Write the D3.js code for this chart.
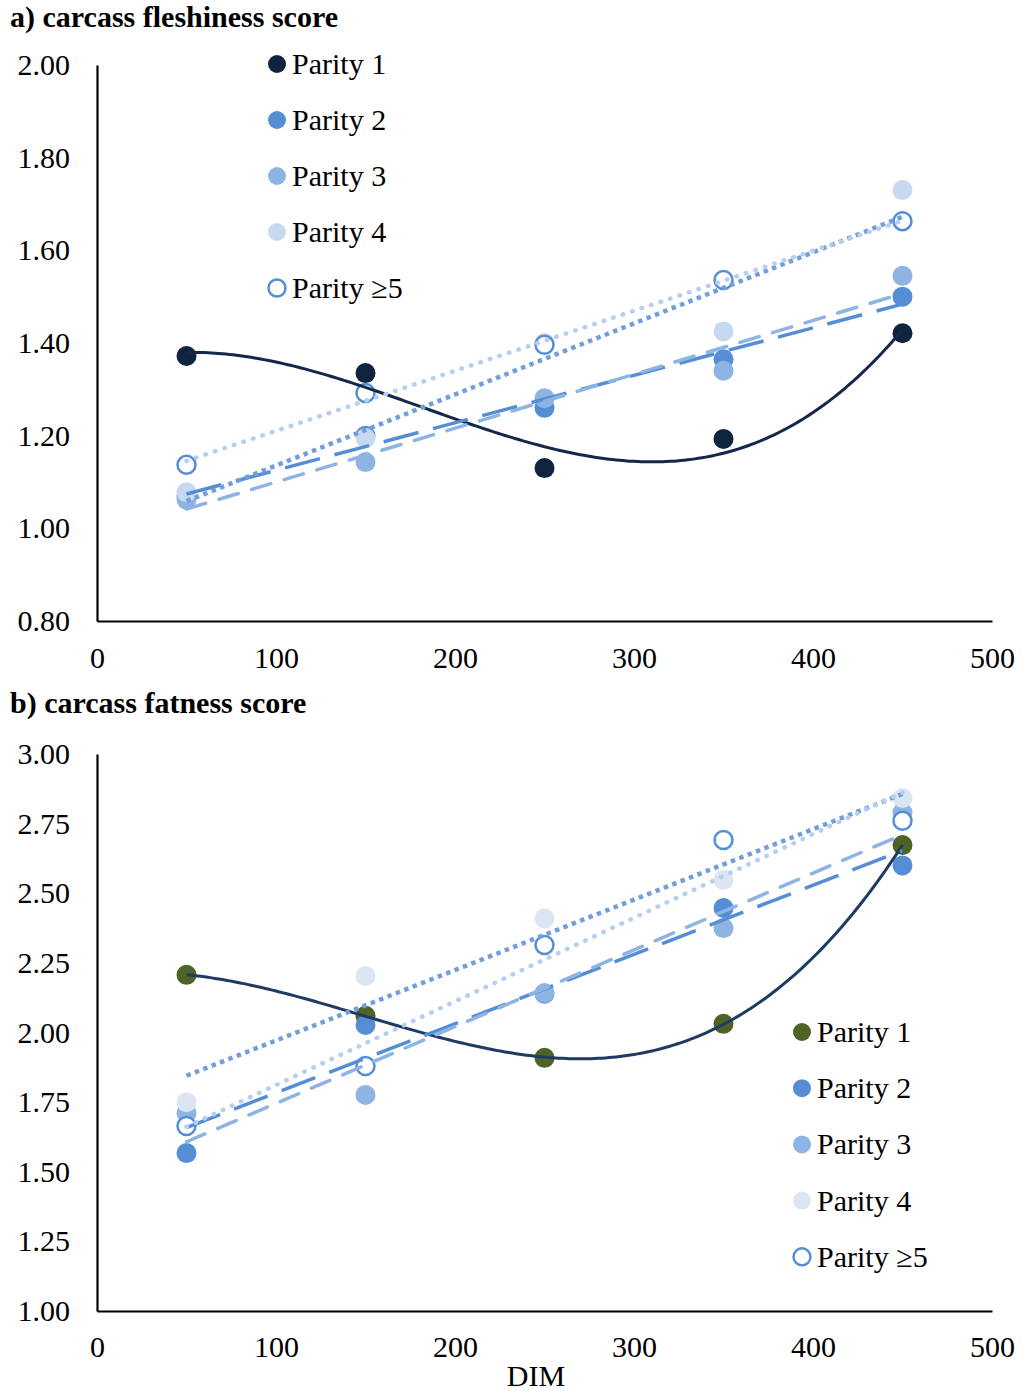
<!DOCTYPE html>
<html>
<head>
<meta charset="utf-8">
<script src="https://cdn.jsdelivr.net/npm/d3@7"></script>
<style>
  body { margin: 0; background: #fff; }
  svg text { font-family: "Liberation Serif", "Times New Roman", serif; }
</style>
</head>
<body>
<div id="chart"></div>
<script>
// Carcass scores by DIM and parity, with Excel-style trendlines
const dim = [50, 150, 250, 350, 450];
const parityNames = ["Parity 1", "Parity 2", "Parity 3", "Parity 4", "Parity \u22655"];
const xTicks = [0, 100, 200, 300, 400, 500];

// a) carcass fleshiness score
const fleshP1 = [1.372, 1.335, 1.130, 1.193, 1.421];
const fleshP2 = [1.070, 1.200, 1.260, 1.365, 1.500];
const fleshP3 = [1.062, 1.143, 1.281, 1.340, 1.545];
const fleshP4 = [1.078, 1.195, 1.400, 1.425, 1.730];
const fleshP5 = [1.137, 1.292, 1.396, 1.536, 1.663];
const fleshTicks = [0.80, 1.00, 1.20, 1.40, 1.60, 1.80, 2.00];

// b) carcass fatness score
const fatP1 = [2.207, 2.060, 1.909, 2.031, 2.673];
const fatP2 = [1.567, 2.027, 2.139, 2.447, 2.600];
const fatP3 = [1.711, 1.776, 2.142, 2.375, 2.790];
const fatP4 = [1.750, 2.203, 2.410, 2.548, 2.842];
const fatP5 = [1.664, 1.880, 2.314, 2.691, 2.760];
const fatTicks = [1.00, 1.25, 1.50, 1.75, 2.00, 2.25, 2.50, 2.75, 3.00];

const width = 1021, height = 1391;

const svg = d3.select("#chart")
    .append("svg")
    .attr("width", width)
    .attr("height", height);

const x = d3.scaleLinear().domain([0, 500]).range([97, 992]);

// least squares polynomial fit (what the Excel trendlines are)
function polyfit(xs, ys, deg) {
    const n = deg + 1;
    const t = xs.map(v => (v - 250) / 100);
    const A = [], b = [];
    for (let i = 0; i < n; i++) {
        A.push([]);
        for (let j = 0; j < n; j++) A[i].push(d3.sum(t, v => Math.pow(v, i + j)));
        b.push(d3.sum(t, (v, k) => ys[k] * Math.pow(v, i)));
    }
    for (let c = 0; c < n; c++) {
        for (let r = c + 1; r < n; r++) {
            const f = A[r][c] / A[c][c];
            for (let k = c; k < n; k++) A[r][k] -= f * A[c][k];
            b[r] -= f * b[c];
        }
    }
    const coef = new Array(n).fill(0);
    for (let r = n - 1; r >= 0; r--) {
        let s = b[r];
        for (let k = r + 1; k < n; k++) s -= A[r][k] * coef[k];
        coef[r] = s / A[r][r];
    }
    return xv => {
        const tv = (xv - 250) / 100;
        return coef.reduce((acc, c, i) => acc + c * Math.pow(tv, i), 0);
    };
}

function drawPanel(cfg) {
    const g = svg.append("g");
    const y = d3.scaleLinear().domain(cfg.yDomain).range(cfg.yRange);

    g.append("text")
        .attr("x", 10)
        .attr("y", cfg.titleY)
        .attr("font-size", 30)
        .attr("font-weight", "bold")
        .text(cfg.title);

    // axes
    const yAxis = g.append("g")
        .attr("transform", `translate(${x(0)},0)`)
        .call(d3.axisLeft(y).tickValues(cfg.ticks).tickSize(0).tickSizeOuter(0)
            .tickPadding(27).tickFormat(d3.format(".2f")));
    const xAxis = g.append("g")
        .attr("transform", `translate(0,${y(cfg.yDomain[0])})`)
        .call(d3.axisBottom(x).tickValues(xTicks).tickSize(0).tickSizeOuter(0));
    xAxis.selectAll("text").attr("y", cfg.xLabelOffset).attr("dy", null);
    [yAxis, xAxis].forEach(a => {
        a.attr("font-family", null).attr("font-size", 30);
        a.select(".domain").attr("stroke", "#000").attr("stroke-width", 2.2);
        a.selectAll("text").attr("fill", "#000");
    });

    // markers
    cfg.series.forEach((s, i) => {
        g.selectAll(null)
            .data(s.values.map((v, k) => ({ d: dim[k], v })))
            .enter()
            .append("circle")
            .attr("cx", p => x(p.d))
            .attr("cy", p => y(p.v))
            .attr("r", s.open ? 9 : 10)
            .attr("fill", s.open ? "#fff" : s.color)
            .attr("stroke", s.open ? s.color : "none")
            .attr("stroke-width", s.open ? 2.5 : 0);
    });

    // trendlines on top of markers
    const line = d3.line().x(p => x(p[0])).y(p => y(p[1]));
    cfg.series.forEach(s => {
        const f = polyfit(dim, s.values, s.deg);
        const pts = s.deg === 1
            ? [[dim[0], f(dim[0])], [dim[4], f(dim[4])]]
            : d3.range(dim[0], dim[4] + 0.1, 2).map(d => [d, f(d)]);
        g.append("path")
            .attr("d", line(pts))
            .attr("fill", "none")
            .attr("stroke", s.trendColor)
            .attr("stroke-width", s.trendWidth)
            .attr("stroke-dasharray", s.dash)
            .attr("stroke-linecap", s.cap);
    });

    // legend
    const leg = g.append("g");
    cfg.series.forEach((s, i) => {
        const ly = cfg.legend.y + i * cfg.legend.step;
        leg.append("circle")
            .attr("cx", cfg.legend.x)
            .attr("cy", ly)
            .attr("r", s.open ? 8.5 : 9)
            .attr("fill", s.open ? "#fff" : s.color)
            .attr("stroke", s.open ? s.color : "none")
            .attr("stroke-width", s.open ? 2.5 : 0);
        leg.append("text")
            .attr("x", cfg.legend.x + 15)
            .attr("y", ly + 10)
            .attr("font-size", 30)
            .text(parityNames[i]);
    });
}

const trendStyles = [
    { deg: 3, dash: null, cap: "butt", trendWidth: 3 },
    { deg: 1, dash: "36,15", cap: "butt", trendWidth: 3.5, trendColor: "#558ED5" },
    { deg: 1, dash: "20,14", cap: "round", trendWidth: 3.5, trendColor: "#8EB4E3" },
    { deg: 1, dash: "4.5,4.5", cap: "butt", trendWidth: 4.5, trendColor: "#729FDC" },
    { deg: 1, dash: "0.5,9.5", cap: "round", trendWidth: 4.5, trendColor: "#B6CEEF" }
];

drawPanel({
    title: "a) carcass fleshiness score",
    titleY: 27,
    yDomain: [0.8, 2.0],
    yRange: [621, 65],
    ticks: fleshTicks,
    xLabelOffset: 47,
    legend: { x: 277, y: 64, step: 56 },
    series: [
        { values: fleshP1, color: "#10233F", ...trendStyles[0], trendColor: "#14284A" },
        { values: fleshP2, color: "#558ED5", ...trendStyles[1] },
        { values: fleshP3, color: "#8EB4E3", ...trendStyles[2] },
        { values: fleshP4, color: "#C6D9F1", ...trendStyles[3] },
        { values: fleshP5, color: "#558ED5", open: true, ...trendStyles[4] }
    ]
});

drawPanel({
    title: "b) carcass fatness score",
    titleY: 713,
    yDomain: [1.0, 3.0],
    yRange: [1311, 754],
    ticks: fatTicks,
    xLabelOffset: 46,
    legend: { x: 802, y: 1032, step: 56.2 },
    series: [
        { values: fatP1, color: "#4F6228", ...trendStyles[0], trendColor: "#1F3B63" },
        { values: fatP2, color: "#558ED5", ...trendStyles[1] },
        { values: fatP3, color: "#8EB4E3", ...trendStyles[2] },
        { values: fatP4, color: "#DCE6F2", ...trendStyles[3] },
        { values: fatP5, color: "#558ED5", open: true, ...trendStyles[4] }
    ]
});

svg.append("text")
    .attr("x", 536)
    .attr("y", 1386)
    .attr("text-anchor", "middle")
    .attr("font-size", 30)
    .text("DIM");
</script>
</body>
</html>
